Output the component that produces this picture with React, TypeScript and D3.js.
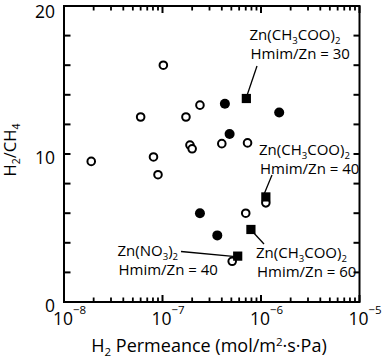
import React from "react";
import * as d3 from "d3";

// Open circles
const openX = [1.89e-8, 6.0e-8, 8.1e-8, 9.0e-8, 1.02e-7, 1.73e-7, 1.9e-7, 2.0e-7, 2.4e-7, 4.0e-7, 7.3e-7, 1.12e-6, 7.0e-7, 5.1e-7];
const openY = [9.5, 12.5, 9.8, 8.6, 16.0, 12.5, 10.6, 10.35, 13.3, 10.7, 10.75, 6.7, 6.0, 2.75];
// Filled circles
const filledX = [4.3e-7, 1.53e-6, 4.8e-7, 2.4e-7, 3.6e-7];
const filledY = [13.4, 12.8, 11.35, 6.0, 4.5];
// Filled squares (annotated)
const squareX = [7.1e-7, 1.12e-6, 7.9e-7, 5.8e-7];
const squareY = [13.75, 7.1, 4.9, 3.1];

const yTicks = [0, 2, 4, 6, 8, 10, 12, 14, 16, 18, 20];
const yTickLabels = [0, 10, 20];
const xDecades = [-8, -7, -6, -5];

const annSalt = ["Zn(CH|3|COO)|2", "Zn(CH|3|COO)|2", "Zn(CH|3|COO)|2", "Zn(NO|3|)|2"];
const annRatio = ["Hmim/Zn = 30", "Hmim/Zn = 40", "Hmim/Zn = 60", "Hmim/Zn = 40"];

const W = 384;
const H = 358;
const FONT = "'Open Sans', Lato, sans-serif";

function SubText({ x, y, s, size, anchor }: { x: number; y: number; s: string; size: number; anchor?: string }) {
  const parts = s.split("|");
  const sub = 3.5;
  return (
    <text x={x} y={y} fontSize={size} fontFamily={FONT} textAnchor={anchor || "start"} fill="#000">
      {parts.map((p, i) => {
        const isSub = i % 2 === 1;
        const prevSub = i > 0 && (i - 1) % 2 === 1;
        const dy = isSub ? sub : prevSub ? -sub : 0;
        return (
          <tspan key={i} dy={dy} fontSize={isSub ? size * 0.64 : size}>
            {p}
          </tspan>
        );
      })}
    </text>
  );
}

export default function App() {
  const x = d3.scaleLog().domain([1e-8, 1e-5]).range([64, 359.5]);
  const y = d3.scaleLinear().domain([0, 20]).range([302, 6]);
  const [x0, x1] = x.range();
  const [y0, y1] = y.range();

  const minor: number[] = [];
  for (let d = -8; d < -5; d++) for (let m = 2; m <= 9; m++) minor.push(m * Math.pow(10, d));

  // annotation layout: text position and leader from text to the square
  const sp = squareX.map((v, i) => [x(v), y(squareY[i])]);
  const ann = [
    { tx: 249.5, ty: 40, lx1: 257, ly1: 66, ex: sp[0][0] + 1, ey: sp[0][1] - 4 },
    { tx: 259, ty: 155, lx1: 272, ly1: 175, ex: sp[1][0] - 1.5, ey: sp[1][1] - 3.5 },
    { tx: 256, ty: 258, lx1: 264, ly1: 244, ex: sp[2][0] + 2, ey: sp[2][1] + 2.5 },
    { tx: 117.5, ty: 256, lx1: 181, ly1: 251.5, ex: sp[3][0] - 2, ey: sp[3][1] + 0.5 },
  ];

  return (
    <svg width={W} height={H} style={{ position: "absolute", left: 0, top: 0, background: "#fff" }}>
      <rect width={W} height={H} fill="#fff" />
      {/* y ticks left & right */}
      {yTicks.map((t) => (
        <g key={"yt" + t}>
          <line x1={x0} x2={x0 + 6.5} y1={y(t)} y2={y(t)} stroke="#000" strokeWidth={2} />
          <line x1={x1} x2={x1 - 6} y1={y(t)} y2={y(t)} stroke="#000" strokeWidth={2} />
        </g>
      ))}
      {/* x ticks bottom & top */}
      {minor.map((t, i) => (
        <g key={"xm" + i}>
          <line x1={x(t)} x2={x(t)} y1={y0} y2={y0 - 4.5} stroke="#000" strokeWidth={1.8} />
          <line x1={x(t)} x2={x(t)} y1={y1} y2={y1 + 4.5} stroke="#000" strokeWidth={1.8} />
        </g>
      ))}
      {xDecades.map((d) => (
        <g key={"xM" + d}>
          <line x1={x(Math.pow(10, d))} x2={x(Math.pow(10, d))} y1={y0} y2={y0 - 7} stroke="#000" strokeWidth={2} />
          <line x1={x(Math.pow(10, d))} x2={x(Math.pow(10, d))} y1={y1} y2={y1 + 7} stroke="#000" strokeWidth={2} />
        </g>
      ))}
      <rect x={x0} y={y1} width={x1 - x0} height={y0 - y1} fill="none" stroke="#000" strokeWidth={2} />

      {/* y tick labels */}
      {yTickLabels.map((t) => (
        <text key={"yl" + t} x={x0 - 9} y={Math.max(y(t) + 2.5, 11)} fontSize={17.5} fontFamily={FONT} textAnchor="end" dominantBaseline="central">
          {t}
        </text>
      ))}
      {/* x tick labels */}
      {xDecades.map((d) => (
        <g key={"xl" + d}>
          <text x={x(Math.pow(10, d)) - 1} y={325} fontSize={17.5} fontFamily={FONT} textAnchor="middle">10</text>
          <text x={x(Math.pow(10, d)) + 9} y={314} fontSize={11.5} fontFamily={FONT} textAnchor="start">{"\u2212" + -d}</text>
        </g>
      ))}

      {/* axis titles */}
      <text x={209} y={352} fontSize={18} fontFamily={FONT} textAnchor="middle">
        <tspan>H</tspan>
        <tspan dy={4} fontSize={11.5}>2</tspan>
        <tspan dy={-4}> Permeance (mol/m</tspan>
        <tspan dy={-6.5} fontSize={11.5}>2</tspan>
        <tspan dy={6.5}>·s·Pa)</tspan>
      </text>
      <g transform="translate(16,150) rotate(-90)">
        <text x={0} y={0} fontSize={16.5} fontFamily={FONT} textAnchor="middle">
          <tspan>H</tspan>
          <tspan dy={4} fontSize={10.5}>2</tspan>
          <tspan dy={-4}>/CH</tspan>
          <tspan dy={4} fontSize={10.5}>4</tspan>
        </text>
      </g>

      {/* leader lines */}
      {ann.map((a, i) => (
        <line key={"ld" + i} x1={a.lx1} y1={a.ly1} x2={a.ex} y2={a.ey} stroke="#000" strokeWidth={1.3} />
      ))}

      {/* markers */}
      {openX.map((v, i) => (
        <circle key={"o" + i} cx={x(v)} cy={y(openY[i])} r={3.8} fill="#fff" stroke="#000" strokeWidth={2} />
      ))}
      {filledX.map((v, i) => (
        <circle key={"f" + i} cx={x(v)} cy={y(filledY[i])} r={5} fill="#000" />
      ))}
      {squareX.map((v, i) => (
        <rect key={"s" + i} x={x(v) - 4.6} y={y(squareY[i]) - 4.6} width={9.2} height={9.2} fill="#000" />
      ))}

      {/* annotation texts */}
      {ann.map((a, i) => (
        <g key={"at" + i}>
          <SubText x={a.tx} y={a.ty} s={annSalt[i]} size={15} />
          <SubText x={a.tx + 1} y={a.ty + 18.5} s={annRatio[i]} size={15} />
        </g>
      ))}
    </svg>
  );
}
